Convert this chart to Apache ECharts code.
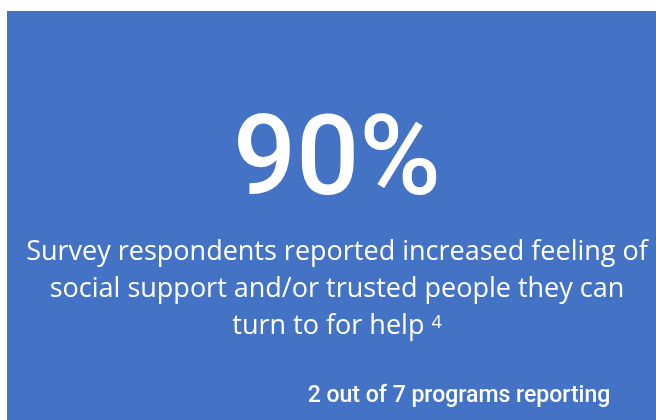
<!DOCTYPE html>
<html>
<head>
<meta charset="utf-8">
<script src="https://cdn.jsdelivr.net/npm/echarts@6/dist/echarts.min.js"></script>
<style>
html,body{margin:0;padding:0;background:#fff;}
#chart{width:656px;height:420px;}
</style>
</head>
<body>
<div id="chart"></div>
<script>
// Data
const percentValue = 90;
const statementLines = [
  'Survey respondents reported increased feeling of',
  'social support and/or trusted people they can',
  'turn to for help'
];
const footnoteRef = '4';
const programsReporting = 2;
const programsTotal = 7;

const chart = echarts.init(document.getElementById('chart'), null, {renderer: 'canvas'});
const option = {
  backgroundColor: '#ffffff',
  animation: false,
  graphic: [
    {
      type: 'rect',
      shape: {x: 7, y: 11, width: 649, height: 409},
      style: {fill: '#4472C4'}
    },
    {
      type: 'text',
      x: 337, y: 166,
      style: {
        text: percentValue + '%',
        fill: '#ffffff',
        font: '500 111px Roboto',
        align: 'center',
        verticalAlign: 'middle'
      }
    },
    {
      type: 'text',
      x: 337, y: 289,
      style: {
        text: '{t|' + statementLines[0] + '}\n{t|' + statementLines[1] + '}\n{t|' + statementLines[2] + ' }{sup|' + footnoteRef + '}',
        align: 'center',
        verticalAlign: 'middle',
        rich: {
          t: {fontFamily: 'Open Sans', fontSize: 27, fill: '#ffffff', lineHeight: 37},
          sup: {fontFamily: 'Open Sans', fontSize: 18, fill: '#ffffff', lineHeight: 37, padding: [0,0,13,0], verticalAlign: 'bottom'}
        }
      }
    },
    {
      type: 'text',
      x: 459, y: 396,
      style: {
        text: programsReporting + ' out of ' + programsTotal + ' programs reporting',
        fill: '#ffffff',
        font: '500 23px Roboto',
        align: 'center',
        verticalAlign: 'middle'
      }
    }
  ]
};
chart.setOption(option);
</script>
</body>
</html>
